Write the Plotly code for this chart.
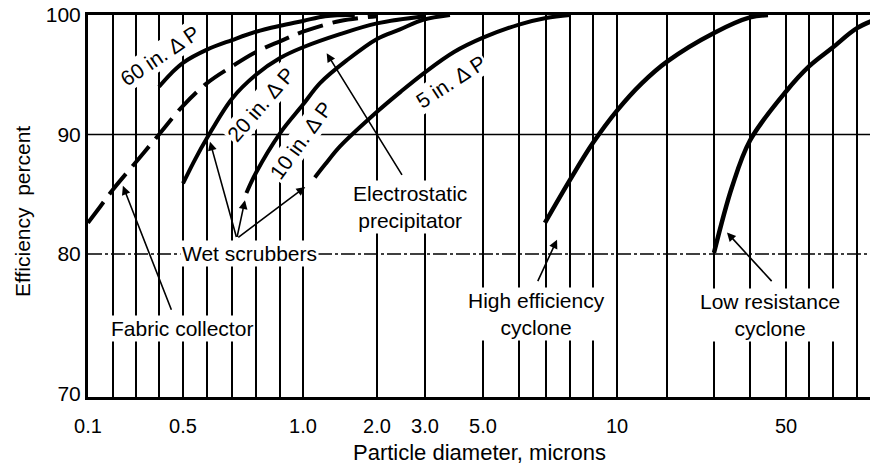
import numpy as np
import plotly.graph_objects as go

# the chart's own (hand drawn) diameter scale: grid line diameters and their place on the axis
grid_d = [0.1, 0.2, 0.3, 0.4, 0.5, 0.6, 0.7, 0.8, 0.9, 1.0, 2, 3, 5, 6, 7, 8, 9, 10,
          20, 30, 40, 50, 60, 70, 80, 90, 100]
grid_pos = [0, 25, 48, 71, 95, 119, 144, 168, 192, 215, 289, 337, 395, 431, 458, 482, 505, 529,
            579, 626, 662, 698, 721, 745, 769, 793, 817]

x_tick_d = [0.1, 0.5, 1.0, 2.0, 3.0, 5.0, 10, 50]
x_tick_text = ["0.1", "0.5", "1.0", "2.0", "3.0", "5.0", "10", "50"]
y_tick_vals = [68.3, 80, 90, 100]
y_tick_text = ["70", "80", "90", "100"]

# efficiency curves (particle diameter in microns, efficiency in percent)
fabric_d = [0.1, 0.15, 0.2, 0.3, 0.4, 0.5, 0.6, 0.7, 0.8, 0.9, 1.0, 1.5, 2.0]
fabric_eff = [82.6, 84.0, 85.4, 87.7, 90.0, 92.4, 94.3, 95.7, 96.9, 97.8, 98.6, 99.5, 99.9]

sixty_d = [0.4, 0.45, 0.5, 0.6, 0.7, 0.8, 0.9, 1.0, 1.3, 1.7]
sixty_eff = [94.0, 95.1, 96.0, 97.1, 97.9, 98.6, 99.1, 99.5, 99.9, 100]

twenty_d = [0.5, 0.55, 0.6, 0.7, 0.8, 0.9, 1.0, 1.5, 2.0, 3.0]
twenty_eff = [85.9, 87.9, 89.7, 93.0, 95.0, 96.4, 97.3, 98.4, 99.3, 99.9]

ten_d = [0.76, 0.8, 0.9, 1.0, 1.23, 1.59, 2.0, 2.48, 2.96, 3.86]
ten_eff = [85.1, 86.8, 90.1, 92.5, 94.3, 96.2, 98.0, 98.8, 99.6, 100]

five_d = [1.16, 1.3, 1.5, 2.0, 2.5, 3.0, 4.0, 5.0, 6.0, 7.0, 8.0]
five_eff = [86.4, 87.5, 89.0, 91.9, 93.6, 95.2, 96.9, 98.1, 99.2, 99.75, 100]

hi_eff_d = [6.96, 8, 9, 10, 15, 20, 30, 40, 45]
hi_eff_eff = [82.6, 86.2, 89.3, 92.0, 94.3, 96.1, 98.5, 99.8, 100]

low_res_d = [30, 35, 40, 50, 60, 70, 80, 90]
low_res_eff = [80.1, 85.6, 89.5, 93.6, 95.7, 97.3, 98.9, 99.8]


def to_axis(d):
    return np.interp(d, grid_d, grid_pos)


fig = go.Figure()

curves = [(fabric_d, fabric_eff, "26px,10px", 4),
          (sixty_d, sixty_eff, "solid", 4),
          (twenty_d, twenty_eff, "solid", 4),
          (ten_d, ten_eff, "solid", 4),
          (five_d, five_eff, "solid", 4),
          (hi_eff_d, hi_eff_eff, "solid", 4.5),
          (low_res_d, low_res_eff, "solid", 4.5)]
for d, eff, dash, w in curves:
    fig.add_trace(go.Scatter(x=to_axis(d), y=eff, mode="lines", line_shape="spline",
                             line=dict(color="black", width=w, dash=dash), hoverinfo="skip"))

# horizontal rules
fig.add_hline(y=90, line=dict(color="black", width=1.5), layer="below")
fig.add_hline(y=80, line=dict(color="black", width=1.5, dash="14px,3px,3px,3px"), layer="below")

font = dict(family="Liberation Sans, Arial, sans-serif", size=21, color="black")

# curve labels
labels = [("60 in. \u0394 P", 0.405, 96.6, -34),
          ("20 in. \u0394 P", 0.82, 92.5, -49),
          ("10 in. \u0394 P", 0.99, 89.5, -54),
          ("5 in. \u0394 P", 3.9, 94.4, -33),
          ("Wet scrubbers", 0.771, 80.0, 0),
          ("Electrostatic<br>precipitator", 2.69, 83.9, 0),
          ("Fabric collector", 0.496, 73.8, 0),
          ("High efficiency<br>cyclone", 6.63, 75.0, 0),
          ("Low resistance<br>cyclone", 45.6, 74.9, 0)]
for text, d, eff, ang in labels:
    fig.add_annotation(x=float(to_axis(d)), y=eff, text=text, showarrow=False, textangle=ang,
                       font=font, bgcolor="white", borderpad=1)

# pointer arrows: head (d, eff) <- tail (d, eff)
arrows = [((0.243, 85.7), (0.454, 75.2)),
          ((0.612, 89.4), (0.72, 81.3)),
          ((0.754, 84.5), (0.72, 81.3)),
          ((1.03, 85.6), (0.72, 81.3)),
          ((1.32, 96.8), (2.54, 86.5)),
          ((7.46, 81.2), (6.67, 77.6)),
          ((33.6, 81.8), (46.4, 77.6))]
for (hd, he), (td, te) in arrows:
    fig.add_annotation(x=float(to_axis(hd)), y=he, ax=float(to_axis(td)), ay=te,
                       axref="x", ayref="y", text="", showarrow=True,
                       arrowhead=2, arrowsize=1.1, arrowwidth=1.6, arrowcolor="black")

# axis titles
fig.add_annotation(xref="paper", yref="paper", x=0.5, y=0, yanchor="middle", yshift=-55,
                   showarrow=False, text="Particle diameter, microns", font=dict(size=22))
fig.add_annotation(xref="paper", yref="paper", x=0, y=0.5, xanchor="center", yanchor="middle",
                   xshift=-66, yshift=-6, showarrow=False,
                   text="Efficiency  percent", textangle=-90, font=dict(size=21))

fig.update_xaxes(range=[0, 782], tickmode="array", tickvals=to_axis(x_tick_d), ticktext=x_tick_text,
                 ticks="", tickfont=dict(size=20), ticklabelstandoff=9,
                 showline=True, linecolor="black", linewidth=3,
                 mirror=True, showgrid=True, gridcolor="black", gridwidth=2, zeroline=False,
                 automargin=False,
                 minor=dict(tickmode="array", tickvals=grid_pos, showgrid=True,
                            gridcolor="black", gridwidth=2, ticks=""))
fig.update_yaxes(range=[68.03, 100], tickmode="array", tickvals=y_tick_vals, ticktext=y_tick_text,
                 ticks="", tickfont=dict(size=21), showline=True, linecolor="black", linewidth=3,
                 showgrid=False, zeroline=False, automargin=False)

fig.update_layout(width=870, height=466, margin=dict(l=88, r=0, t=15, b=69),
                  plot_bgcolor="white", paper_bgcolor="white", showlegend=False,
                  font=dict(family="Liberation Sans, Arial, sans-serif", color="black"))

# drop the page's default body margin so the figure sits at the window's corner
fig.write_html("out.html", config={"displayModeBar": False},
               post_script="document.body.style.margin='0';")
